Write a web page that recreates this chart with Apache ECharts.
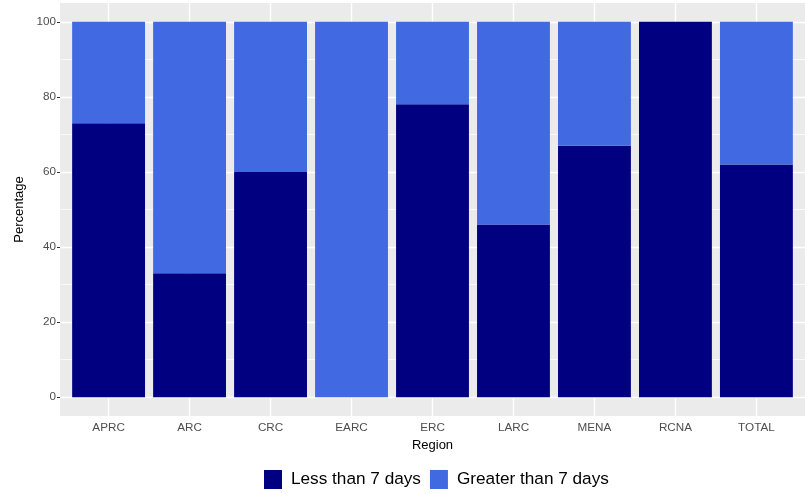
<!DOCTYPE html>
<html>
<head>
<meta charset="utf-8">
<script src="https://cdn.jsdelivr.net/npm/echarts@6/dist/echarts.min.js"></script>
<style>
html,body{margin:0;padding:0;background:#fff;}
#chart{width:805px;height:494px;}
</style>
</head>
<body>
<div id="chart"></div>
<script>
// Data
const categories = ['APRC', 'ARC', 'CRC', 'EARC', 'ERC', 'LARC', 'MENA', 'RCNA', 'TOTAL'];
const lessThan7 = [73, 33, 60, 0, 78, 46, 67, 100, 62];
const greaterThan7 = [27, 67, 40, 100, 22, 54, 33, 0, 38];
const yTicks = [0, 20, 40, 60, 80, 100];
const yMinorGrid = [10, 30, 50, 70, 90];
const seriesNames = ['Less than 7 days', 'Greater than 7 days'];

const font = 'Liberation Sans, Arial, sans-serif';
const chart = echarts.init(document.getElementById('chart'), null, {renderer: 'canvas'});

const hGridLines = []
  .concat(yTicks.map(v => ({yAxis: v, lineStyle: {width: 1.4}})))
  .concat(yMinorGrid.map(v => ({yAxis: v, lineStyle: {width: 0.7}})));
const vGridLines = categories.map(c => ({xAxis: c, lineStyle: {width: 1.4}}));

const markLineBase = {
  silent: true,
  z: 1,
  symbol: ['none', 'none'],
  label: {show: false},
  emphasis: {disabled: true},
  animation: false
};

chart.setOption({
  animation: false,
  backgroundColor: '#ffffff',
  textStyle: {fontFamily: font},
  grid: [
    { // panel
      left: 60, right: 0, top: 3, bottom: 78,
      show: true, backgroundColor: '#EBEBEB', borderWidth: 0
    },
    { // bars (0.6 category expansion on each side)
      left: 68.1, right: 8.1, top: 3, bottom: 78,
      show: false
    }
  ],
  legend: {
    data: seriesNames,
    left: 264, top: 470,
    padding: 0,
    icon: 'rect',
    itemWidth: 18, itemHeight: 19,
    itemGap: 9,
    textStyle: {fontSize: 17.2, color: '#000', fontFamily: font, padding: [0, 0, 0, 4]}
  },
  xAxis: [
    {
      gridIndex: 0, type: 'value', min: 0, max: 1, show: false
    },
    {
      gridIndex: 1,
      type: 'category',
      data: categories,
      name: 'Region',
      nameLocation: 'middle',
      nameGap: 20,
      nameTextStyle: {fontSize: 13, color: '#000', fontFamily: font},
      axisLine: {show: false},
      splitLine: {show: false},
      axisTick: {show: true, alignWithLabel: true, length: 3, lineStyle: {color: '#333333', width: 1}},
      axisLabel: {color: '#4D4D4D', fontSize: 11.7, fontFamily: font, margin: 6, interval: 0}
    }
  ],
  yAxis: [
    {
      gridIndex: 0,
      type: 'value',
      min: -5, max: 105,
      name: 'Percentage',
      nameLocation: 'middle',
      nameGap: 31,
      nameRotate: 90,
      nameTextStyle: {fontSize: 13, color: '#000', fontFamily: font},
      axisLine: {show: false},
      splitLine: {show: false},
      axisTick: {show: true, length: 3, customValues: yTicks, lineStyle: {color: '#333333', width: 1}},
      axisLabel: {customValues: yTicks, color: '#4D4D4D', fontSize: 11.7, fontFamily: font, margin: 4}
    },
    {
      gridIndex: 1, type: 'value', min: -5, max: 105, show: false, splitLine: {show: false}
    }
  ],
  series: [
    {
      type: 'line', name: '_hgrid', xAxisIndex: 0, yAxisIndex: 0,
      data: [], z: 1, silent: true,
      markLine: Object.assign({}, markLineBase, {
        lineStyle: {color: '#FFFFFF', type: 'solid'},
        data: hGridLines
      })
    },
    {
      type: 'bar',
      name: seriesNames[0],
      xAxisIndex: 1, yAxisIndex: 1,
      stack: 'total',
      barWidth: '90%',
      z: 3,
      itemStyle: {color: '#000080'},
      data: lessThan7,
      markLine: Object.assign({}, markLineBase, {
        lineStyle: {color: '#FFFFFF', type: 'solid'},
        data: vGridLines
      })
    },
    {
      type: 'bar',
      name: seriesNames[1],
      xAxisIndex: 1, yAxisIndex: 1,
      stack: 'total',
      barWidth: '90%',
      z: 3,
      itemStyle: {color: '#4169E1'},
      data: greaterThan7
    }
  ]
});
</script>
</body>
</html>
